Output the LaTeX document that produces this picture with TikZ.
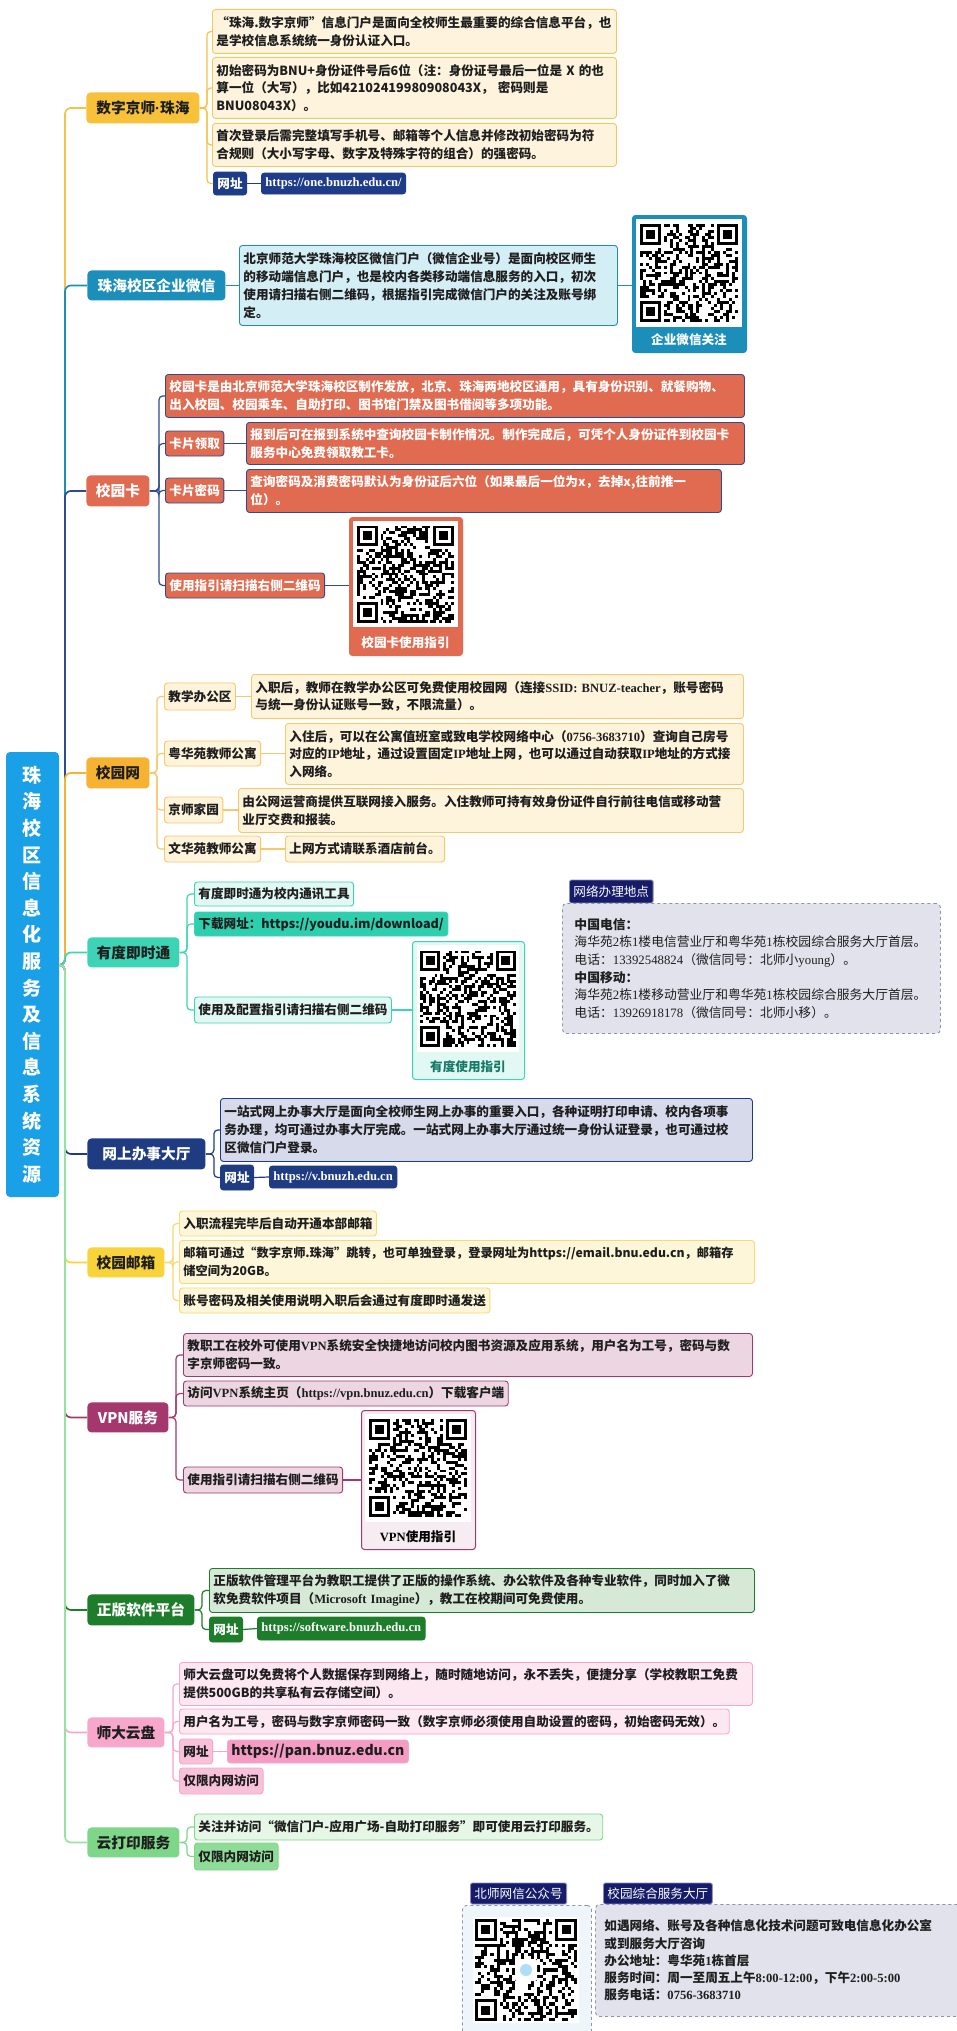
\documentclass[tikz,border=0pt]{standalone}
\usepackage{fontspec}
\setmainfont{Noto Sans CJK SC}
\newfontfamily\ser{Liberation Serif}
\newfontfamily\lsans{Liberation Sans}
\usetikzlibrary{calc}
\definecolor{tdark}{HTML}{1E1E1E}
\definecolor{rootc}{HTML}{1AA0E6}
\definecolor{yel1}{HTML}{F8C13A}
\definecolor{l1}{HTML}{F6C24A}
\definecolor{yelbox}{HTML}{FEF4DD}
\definecolor{yelbor}{HTML}{F5C85E}
\definecolor{navyc}{HTML}{1F3C88}
\definecolor{wxc}{HTML}{1C8EBA}
\definecolor{wxbox}{HTML}{D4EEF6}
\definecolor{cardc}{HTML}{E06B51}
\definecolor{cardline}{HTML}{2F4C8E}
\definecolor{netc}{HTML}{F7B232}
\definecolor{netbox}{HTML}{FEF3DB}
\definecolor{netbor}{HTML}{F7C76A}
\definecolor{ydc}{HTML}{3CD4B5}
\definecolor{ydbox}{HTML}{E1F8F3}
\definecolor{yddl}{HTML}{2ECFAE}
\definecolor{ydtxt}{HTML}{157A66}
\definecolor{tabc}{HTML}{161C6A}
\definecolor{infofill}{HTML}{E2E2ED}
\definecolor{infobor}{HTML}{9292A6}
\definecolor{hallc}{HTML}{1F3B82}
\definecolor{hallbox}{HTML}{D6DAEA}
\definecolor{mailc}{HTML}{F8D33A}
\definecolor{mailbox}{HTML}{FEF6D8}
\definecolor{mailbor}{HTML}{F8DA6E}
\definecolor{vpnc}{HTML}{A4386D}
\definecolor{vpnbox}{HTML}{EBD6E1}
\definecolor{vpnqr}{HTML}{F6ECF1}
\definecolor{swc}{HTML}{1E7D2B}
\definecolor{swbox}{HTML}{D6E9D6}
\definecolor{panc}{HTML}{F6A7CB}
\definecolor{panbox}{HTML}{FDE7F1}
\definecolor{panmid}{HTML}{F9C0DA}
\definecolor{pandark}{HTML}{F59CC4}
\definecolor{printc}{HTML}{7ED689}
\definecolor{l11}{HTML}{96E3A0}
\definecolor{printbox}{HTML}{E6F7E7}
\definecolor{printmid}{HTML}{8EDC97}
\definecolor{qrlight}{HTML}{EEF5FB}
\newcommand\bodyf{\fontsize{12.6}{17.8}\selectfont\bfseries\hyphenpenalty=10000\exhyphenpenalty=10000}
\newcommand\brf{\fontsize{14.7}{17}\selectfont\bfseries}
\newcommand\tabf{\fontsize{12.6}{15}\selectfont}
\newcommand\infof{\fontsize{12.8}{17.6}\selectfont\hyphenpenalty=10000\exhyphenpenalty=10000}
\tikzset{
 tb/.style={rounded corners=3pt, line width=0.9pt, inner xsep=4pt, inner ysep=1pt, font=\bodyf, text=tdark},
 brs/.style={draw=none, align=center, font=\brf, rounded corners=4pt},
 trunk/.style={line width=1.7pt, rounded corners=6pt},
 subln/.style={line width=1.2pt, rounded corners=4pt},
 yb/.style={fill=yelbox, draw=yelbor},
 nv/.style={fill=navyc, draw=navyc, text=white},
 wxb/.style={fill=wxbox, draw=wxc},
 cb/.style={fill=cardc, draw=cardline, text=white},
 nb/.style={fill=netbox, draw=netbor},
 ydb/.style={fill=ydbox, draw=ydc},
 hb/.style={fill=hallbox, draw=hallc},
 hv/.style={fill=hallc, draw=hallc, text=white},
 mb/.style={fill=mailbox, draw=mailbor},
 vb/.style={fill=vpnbox, draw=vpnc},
 sb/.style={fill=swbox, draw=swc},
 sv/.style={fill=swc, draw=swc, text=white},
 pb/.style={fill=panbox, draw=panc},
 prb/.style={fill=printbox, draw=printc},
 tabbox/.style={fill=tabc, draw=tabc!50!white, text=white, font=\tabf, rounded corners=1.5pt},
 infob/.style={rounded corners=4pt, line width=0.9pt, fill=infofill, draw=infobor, dashed, align=left, text=tdark, anchor=north west},
 qrframe/.style={rounded corners=3pt, line width=1pt, anchor=north west, inner sep=0pt},
 qrlab/.style={font=\bodyf},
}
% fixed box: name, style, x1, y1, x2, y2, text
\newcommand\bx[7]{\pgfmathsetlengthmacro\bxw{#5-#3-8}\pgfmathsetlengthmacro\bxh{#6-#4}%
 \node[tb, align=left, #2, anchor=north west, text width=\bxw, minimum height=\bxh] (#1) at (#3,#4) {#7};}
% single-line label: name, style, x1, y1, y2, text
\newcommand\lb[6]{\pgfmathsetlengthmacro\bxh{#5-#4}\pgfmathsetmacro\bxc{(#4+#5)/2}%
 \node[tb, align=center, #2, anchor=west, minimum height=\bxh] (#1) at (#3,\bxc) {#6};}
% qr: x, y, w, h of white area, qr size, seed  (33 modules)
\newcommand\qrc[6]{%
 \fill[white] (#1,#2) rectangle ++(#3,#4);
 \pgfmathsetmacro\qm{#5/33}\pgfmathsetmacro\qx{#1+(#3-#5)/2}\pgfmathsetmacro\qy{#2+(#4-#5)/2}%
 \pgfmathsetseed{#6}%
 \foreach \i in {0,...,32}{\foreach \j in {0,...,32}{%
   \pgfmathtruncatemacro\qb{rnd*1.9}%
   \ifnum\qb=1 \fill[black] ({\qx+\i*\qm},{\qy+\j*\qm}) rectangle ++(\qm,\qm);\fi}}
 \foreach \wx/\wy/\fx/\fy in {0/0/0/0,25/0/26/0,0/25/0/26}{%
   \fill[white] ({\qx+\wx*\qm},{\qy+\wy*\qm}) rectangle ++({8*\qm},{8*\qm});
   \fill[black] ({\qx+\fx*\qm},{\qy+\fy*\qm}) rectangle ++({7*\qm},{7*\qm});
   \fill[white] ({\qx+(\fx+1)*\qm},{\qy+(\fy+1)*\qm}) rectangle ++({5*\qm},{5*\qm});
   \fill[black] ({\qx+(\fx+2)*\qm},{\qy+(\fy+2)*\qm}) rectangle ++({3*\qm},{3*\qm});}
}
\begin{document}
\begin{tikzpicture}[x=1pt,y=-1pt]
\useasboundingbox (0,0) rectangle (957,2031);
\clip (0,0) rectangle (957,2031);
\fill[white] (0,0) rectangle (957,2031);

% root
\node[fill=rootc, rounded corners=4pt, minimum width=53pt, minimum height=445pt, text=white, align=center,
  font=\fontsize{19}{26.6}\selectfont\bfseries, inner sep=0pt] (root) at (32.5,974.5)
  {珠\\海\\校\\区\\信\\息\\化\\服\\务\\及\\信\\息\\系\\统\\资\\源};
\coordinate (rp) at (59,965);

% ---------- 1 数字京师·珠海
\bx{B1}{brs, fill=yel1}{86}{92}{199}{123}{数字京师{\lsans\bfseries ·}珠海}
\bx{A1}{yb}{212}{9}{616}{53}{“珠海.数字京师”信息门户是面向全校师生最重要的综合信息平台，也\\是学校信息系统统一身份认证入口。}
\bx{A2}{yb}{212}{57}{616}{118}{初始密码为BNU+身份证件号后6位（注：身份证号最后一位是~X~的也\\算一位（大写），比如42102419980908043X，~密码则是\\BNU08043X）。}
\bx{A3}{yb}{212}{123}{616}{166}{首次登录后需完整填写手机号、邮箱等个人信息并修改初始密码为符\\合规则（大小写字母、数字及特殊字符的组合）的强密码。}
\lb{W1}{nv}{213}{172}{195}{网址}
\lb{U1}{nv}{261}{173}{194}{\ser https://one.bnuzh.edu.cn/}

% ---------- 2 企业微信
\bx{B2}{brs, fill=wxc, text=white}{87}{270}{225}{300}{珠海校区企业微信}
\bx{D2}{wxb}{239}{245}{617}{325}{北京师范大学珠海校区微信门户（微信企业号）是面向校区师生\\的移动端信息门户，也是校内各类移动端信息服务的入口，初次\\使用请扫描右侧二维码，根据指引完成微信门户的关注及账号绑\\定。}
\node[qrframe, fill=wxc, draw=wxc, minimum width=114pt, minimum height=137pt] (Q2) at (632,215) {};
\qrc{636}{219}{106}{108}{98}{11}
\node[qrlab, text=white] (Q2l) at (689,340) {企业微信关注};

% ---------- 3 校园卡
\bx{B3}{brs, fill=cardc, text=white}{86}{475}{149}{506}{校园卡}
\bx{C1}{cb}{165}{374}{744}{417}{校园卡是由北京师范大学珠海校区制作发放，北京、珠海两地校区通用，具有身份识别、就餐购物、\\出入校园、校园乘车、自助打印、图书馆门禁及图书借阅等多项功能。}
\lb{K1}{cb}{165}{431}{456}{卡片领取}
\bx{C2}{cb}{246}{422}{744}{464}{报到后可在报到系统中查询校园卡制作情况。制作完成后，可凭个人身份证件到校园卡\\服务中心免费领取教工卡。}
\lb{K2}{cb}{165}{478}{503}{卡片密码}
\bx{C3}{cb}{246}{469}{721}{512}{查询密码及消费密码默认为身份证后六位（如果最后一位为x，去掉x,往前推一\\位）。}
\lb{K3}{cb}{165}{573}{598}{使用指引请扫描右侧二维码}
\node[qrframe, fill=cardc, draw=cardc, minimum width=113pt, minimum height=138pt] (Q3) at (349,517) {};
\qrc{353}{521}{105}{106}{97}{23}
\node[qrlab, text=white] (Q3l) at (405.5,643) {校园卡使用指引};

% ---------- 4 校园网
\bx{B4}{brs, fill=netc}{86}{757}{149}{788}{校园网}
\lb{N1}{nb}{164}{683}{710}{教学办公区}
\bx{NB1}{nb}{251}{674}{743}{718}{入职后，教师在教学办公区可免费使用校园网（连接{\ser SSID:~BNUZ-teacher}，账号密码\\与统一身份认证账号一致，不限流量）。}
\lb{N2}{nb}{164}{741}{766}{粤华苑教师公寓}
\bx{NB2}{nb}{285}{723}{743}{784}{入住后，可以在公寓值班室或致电学校网络中心（{\ser 0756-3683710}）查询自己房号\\对应的{\ser IP}地址，通过设置固定{\ser IP}地址上网，也可以通过自动获取{\ser IP}地址的方式接\\入网络。}
\lb{N3}{nb}{164}{797}{823}{京师家园}
\bx{NB3}{nb}{238}{788}{743}{832}{由公网运营商提供互联网接入服务。入住教师可持有效身份证件自行前往电信或移动营\\业厅交费和报装。}
\lb{N4}{nb}{164}{836}{862}{文华苑教师公寓}
\lb{NB4}{nb}{285}{836}{862}{上网方式请联系酒店前台。}

% ---------- 5 有度即时通
\bx{B5}{brs, fill=ydc}{87}{937}{179}{967}{有度即时通}
\lb{Y1}{ydb}{194}{882}{906}{有度即时通为校内通讯工具}
\lb{Y2}{ydb, fill=yddl}{194}{912}{936}{下载网址：https://youdu.im/download/}
\lb{Y3}{ydb}{194}{997}{1023}{使用及配置指引请扫描右侧二维码}
\node[qrframe, fill=ydbox, draw=ydc, minimum width=112pt, minimum height=138pt] (Q5) at (412,941) {};
\qrc{417}{945}{102}{107}{96}{37}
\node[qrlab, text=ydtxt] (Q5l) at (468,1067) {有度使用指引};

% network info
\lb{T1}{tabbox}{569}{880}{903}{网络办理地点}
\node[infob, font=\infof, text width=354pt, inner xsep=12pt, minimum height=130pt] (NW) at (562,903)
 {{\bfseries 中国电信：}\\海华苑{\ser 2}栋{\ser 1}楼电信营业厅和粤华苑{\ser 1}栋校园综合服务大厅首层。\\电话：{\ser 13392548824}（微信同号：北师小{\ser young}）。\\{\bfseries 中国移动：}\\海华苑{\ser 2}栋{\ser 1}楼移动营业厅和粤华苑{\ser 1}栋校园综合服务大厅首层。\\电话：{\ser 13926918178}（微信同号：北师小移）。};

% ---------- 6 网上办事大厅
\bx{B6}{brs, fill=hallc, text=white}{87}{1138}{205}{1169}{网上办事大厅}
\bx{D6}{hb}{220}{1098}{752}{1161}{一站式网上办事大厅是面向全校师生网上办事的重要入口，各种证明打印申请、校内各项事\\务办理，均可通过办事大厅完成。一站式网上办事大厅通过统一身份认证登录，也可通过校\\区微信门户登录。}
\lb{W6}{hv}{220}{1165}{1190}{网址}
\lb{U6}{hv}{269}{1166}{1188}{\ser https://v.bnuzh.edu.cn}

% ---------- 7 校园邮箱
\bx{B7}{brs, fill=mailc}{87}{1247}{164}{1277}{校园邮箱}
\lb{E1}{mb}{179}{1211}{1236}{入职流程完毕后自动开通本部邮箱}
\bx{E2}{mb, font=\fontsize{12.2}{17.8}\selectfont\bfseries}{179}{1240}{754}{1283}{邮箱可通过“数字京师.珠海”跳转，也可单独登录，登录网址为https://email.bnu.edu.cn，邮箱存\\储空间为20GB。}
\lb{E3}{mb}{179}{1288}{1313}{账号密码及相关使用说明入职后会通过有度即时通发送}

% ---------- 8 VPN
\bx{B8}{brs, fill=vpnc, text=white}{87}{1402}{168}{1432}{VPN服务}
\bx{V1}{vb}{183}{1333}{752}{1376}{教职工在校外可使用{\ser VPN}系统安全快捷地访问校内图书资源及应用系统，用户名为工号，密码与数\\字京师密码一致。}
\lb{V2}{vb}{183}{1381}{1406}{访问{\ser VPN}系统主页（{\ser https://vpn.bnuz.edu.cn}）下载客户端}
\lb{V3}{vb}{183}{1467}{1493}{使用指引请扫描右侧二维码}
\node[qrframe, fill=vpnqr, draw=vpnc, minimum width=114pt, minimum height=139pt] (Q8) at (361,1410) {};
\qrc{365}{1414}{106}{108}{98}{53}
\node[qrlab] (Q8l) at (418,1537) {{\ser VPN}使用指引};

% ---------- 9 正版软件平台
\bx{B9}{brs, fill=swc, text=white}{87}{1594}{194}{1625}{正版软件平台}
\bx{S1}{sb}{209}{1568}{754}{1612}{正版软件管理平台为教职工提供了正版的操作系统、办公软件及各种专业软件，同时加入了微\\软免费软件项目（{\ser Microsoft~Imagine}），教工在校期间可免费使用。}
\lb{W9}{sv}{209}{1617}{1642}{网址}
\lb{U9}{sv}{257}{1617}{1640}{\ser https://software.bnuzh.edu.cn}

% ---------- 10 师大云盘
\bx{B10}{brs, fill=panc}{87}{1717}{164}{1747}{师大云盘}
\bx{P1}{pb}{179}{1662}{752}{1705}{师大云盘可以免费将个人数据保存到网络上，随时随地访问，永不丢失，便捷分享（学校教职工免费\\提供500GB的共享私有云存储空间）。}
\lb{P2}{pb}{179}{1709}{1734}{用户名为工号，密码与数字京师密码一致（数字京师必须使用自助设置的密码，初始密码无效）。}
\lb{W10}{pb, fill=panmid}{179}{1739}{1764}{网址}
\lb{U10}{pb, fill=pandark, font=\fontsize{14}{16}\selectfont\bfseries}{227}{1740}{1763}{https://pan.bnuz.edu.cn}
\lb{P4}{pb, fill=panmid}{179}{1768}{1794}{仅限内网访问}

% ---------- 11 云打印服务
\bx{B11}{brs, fill=printc}{87}{1827}{179}{1857}{云打印服务}
\lb{Y11a}{prb}{194}{1814}{1840}{关注并访问“微信门户-应用广场-自助打印服务”即可使用云打印服务。}
\lb{Y11b}{prb, fill=printmid}{194}{1843}{1870}{仅限内网访问}

% ---------- bottom
\lb{T2}{tabbox}{470}{1883}{1904}{北师网信公众号}
\node[infob, fill=qrlight, minimum width=129pt, minimum height=140pt, inner sep=0pt] (QB) at (462,1905) {};
\qrc{473}{1917}{106}{106}{102}{71}
\fill[white, rounded corners=2pt] (515,1959) rectangle ++(22,22);
\fill[rootc!35] (526,1970) circle (6);
\lb{T3}{tabbox}{603}{1883}{1904}{校园综合服务大厅}
\node[infob, font=\fontsize{12.6}{17.3}\selectfont\bfseries, text width=360pt, inner xsep=9pt, minimum height=112pt] (INFO) at (595,1904)
 {如遇网络、账号及各种信息化技术问题可致电信息化办公室\\或到服务大厅咨询\\办公地址：粤华苑{\ser 1}栋首层\\服务时间：周一至周五上午{\ser 8:00-12:00}，下午{\ser 2:00-5:00}\\服务电话：{\ser 0756-3683710}};

% ---------- trunk connectors
\draw[trunk, draw=l1] (rp) -- ++(6,0) |- (B1.west);
\draw[trunk, draw=wxc] (rp) -- ++(6,0) |- (B2.west);
\draw[trunk, draw=cardline] (rp) -- ++(6,0) |- (B3.west);
\draw[trunk, draw=netc] (rp) -- ++(6,0) |- (B4.west);
\draw[trunk, draw=ydc] (rp) -- ++(6,0) |- (B5.west);
\draw[trunk, draw=hallc] (rp) -- ++(6,0) |- (B6.west);
\draw[trunk, draw=mailc] (rp) -- ++(6,0) |- (B7.west);
\draw[trunk, draw=vpnc] (rp) -- ++(6,0) |- (B8.west);
\draw[trunk, draw=swc] (rp) -- ++(6,0) |- (B9.west);
\draw[trunk, draw=panc] (rp) -- ++(6,0) |- (B10.west);
\draw[trunk, draw=l11] (rp) -- ++(6,0) |- (B11.west);

% ---------- sub connectors
\foreach \c in {A1,A2,A3,W1} {\draw[subln, draw=l1] (B1.east) -- ++(7,0) |- (\c.west);}
\draw[subln, draw=navyc] (W1.east) -- (U1.west);
\draw[subln, draw=wxc] (B2.east) -- (D2.west);
\draw[subln, draw=wxc] (D2.east) -- (D2.east -| Q2.west);
\foreach \c in {C1,K1,K2,K3} {\draw[subln, draw=cardline] (B3.east) -- ++(9,0) |- (\c.west);}
\draw[subln, draw=cardline] (K1.east) -- (K1.east -| C2.west);
\draw[subln, draw=cardline] (K2.east) -- (K2.east -| C3.west);
\draw[subln, draw=cardline] (K3.east) -- (K3.east -| Q3.west);
\foreach \c in {N1,N2,N3,N4} {\draw[subln, draw=netbor] (B4.east) -- ++(7,0) |- (\c.west);}
\draw[subln, draw=netbor] (N1.east) -- (N1.east -| NB1.west);
\draw[subln, draw=netbor] (N2.east) -- (N2.east -| NB2.west);
\draw[subln, draw=netbor] (N3.east) -- (N3.east -| NB3.west);
\draw[subln, draw=netbor] (N4.east) -- (NB4.west);
\foreach \c in {Y1,Y2,Y3} {\draw[subln, draw=ydc] (B5.east) -- ++(7,0) |- (\c.west);}
\draw[subln, draw=ydc] (Y3.east) -- (Y3.east -| Q5.west);
\foreach \c in {D6,W6} {\draw[subln, draw=hallc] (B6.east) -- ++(8,0) |- (\c.west);}
\draw[subln, draw=hallc] (W6.east) -- (U6.west);
\foreach \c in {E1,E2,E3} {\draw[subln, draw=mailbor] (B7.east) -- ++(8,0) |- (\c.west);}
\foreach \c in {V1,V2,V3} {\draw[subln, draw=vpnc] (B8.east) -- ++(7,0) |- (\c.west);}
\draw[subln, draw=vpnc] (V3.east) -- (V3.east -| Q8.west);
\foreach \c in {S1,W9} {\draw[subln, draw=swc] (B9.east) -- ++(7,0) |- (\c.west);}
\draw[subln, draw=swc] (W9.east) -- (U9.west);
\foreach \c in {P1,P2,W10,P4} {\draw[subln, draw=panc] (B10.east) -- ++(8,0) |- (\c.west);}
\draw[subln, draw=panc] (W10.east) -- (U10.west);
\foreach \c in {Y11a,Y11b} {\draw[subln, draw=printc] (B11.east) -- ++(7,0) |- (\c.west);}
\end{tikzpicture}
\end{document}
